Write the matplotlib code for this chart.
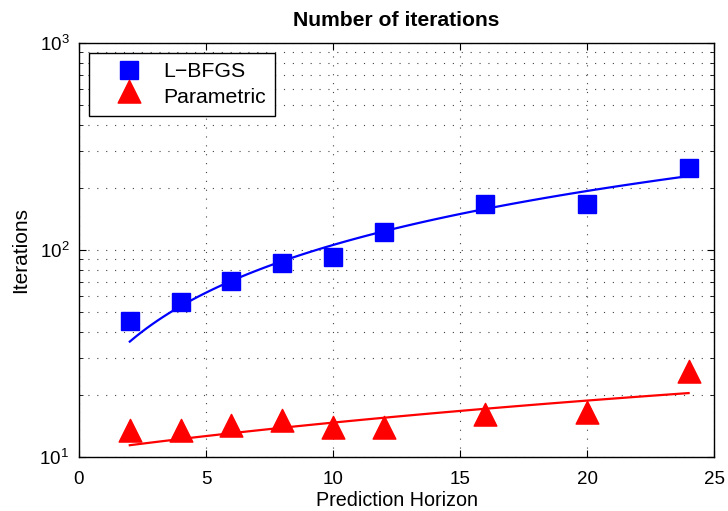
import numpy as np
import matplotlib
matplotlib.use("Agg")
import matplotlib.pyplot as plt
from matplotlib.path import Path
from matplotlib.ticker import LogLocator, NullFormatter, FixedLocator

plt.rcParams['font.family'] = ['Liberation Sans', 'DejaVu Sans']
plt.rcParams['mathtext.fontset'] = 'custom'
plt.rcParams['mathtext.rm'] = 'Liberation Sans'

horizon = [2, 4, 6, 8, 10, 12, 16, 20, 24]
lbfgs_iters = [45.2, 56.3, 71.1, 86.2, 92.2, 122.5, 166.8, 167.5, 248]
param_iters = [12.9, 12.9, 13.7, 14.4, 13.4, 13.4, 15.4, 15.8, 24.9]
x_ticks = [0, 5, 10, 15, 20, 25]

fig = plt.figure(figsize=(7.28, 5.11), dpi=100)
ax = fig.add_axes([0.1085, 0.1057, 0.8723, 0.8102])

# triangle marker centred on its centroid (as MATLAB draws it)
tri = Path([(0, 4 / 3), (-1, -2 / 3), (1, -2 / 3), (0, 4 / 3)],
           [Path.MOVETO, Path.LINETO, Path.LINETO, Path.CLOSEPOLY])

# least-squares linear fits of the data, drawn as curves on the log axis
hx = np.array(horizon, dtype=float)
fx = np.linspace(hx.min(), hx.max(), 100)
pb = np.polyfit(hx, np.array(lbfgs_iters), 1)
pr = np.polyfit(hx, np.array(param_iters), 1)
ax.plot(fx, np.polyval(pb, fx), color='#0000ff', lw=1.6, zorder=3)
ax.plot(fx, np.polyval(pr, fx), color='#ff0000', lw=1.6, zorder=3)

ax.plot(horizon, lbfgs_iters, linestyle='none', marker='s', ms=13,
        color='#0000ff', mec='#0000ff', label='L\u2212BFGS', zorder=4)
ax.plot(horizon, param_iters, linestyle='none', marker=tri, ms=21.8,
        color='#ff0000', mec='#ff0000', label='Parametric', zorder=4)

ax.set_yscale('log')
ax.set_xlim(0, 25)
ax.set_ylim(10, 1000)
ax.xaxis.set_major_locator(FixedLocator(x_ticks))
ax.yaxis.set_major_locator(LogLocator(base=10, numticks=5))
ax.yaxis.set_minor_locator(LogLocator(base=10, subs=np.arange(2, 10), numticks=20))
ax.yaxis.set_minor_formatter(NullFormatter())

gstyle = dict(color='#444444', linestyle=(0, (1, 7)), lw=0.8)
ax.grid(True, which='major', axis='both', **gstyle)
ax.grid(True, which='minor', axis='y', **gstyle)
ax.set_axisbelow(True)

ax.tick_params(which='both', direction='in', top=True, right=True)
ax.tick_params(which='major', length=5, width=0.8, labelsize=13.5)
ax.tick_params(axis='x', which='major', pad=10)
ax.tick_params(axis='y', which='major', pad=7)
ax.tick_params(which='minor', length=3, width=0.6)
for s in ax.spines.values():
    s.set_linewidth(1.0)

ax.set_xlabel('Prediction Horizon', fontsize=14.2, labelpad=2)
ax.set_ylabel('Iterations', fontsize=15, labelpad=7)
ax.set_title('Number of iterations', fontsize=15.2, fontweight='bold', pad=12)

leg = ax.legend(loc='upper left', bbox_to_anchor=(0.0153, 0.9766), numpoints=1,
                fontsize=15.3, frameon=True, fancybox=False, edgecolor='black',
                framealpha=1, borderpad=0.44, handlelength=2.92, handletextpad=0.15,
                labelspacing=0.32, borderaxespad=0)
leg.get_frame().set_linewidth(1.0)

fig.savefig('out.png', dpi=100)
